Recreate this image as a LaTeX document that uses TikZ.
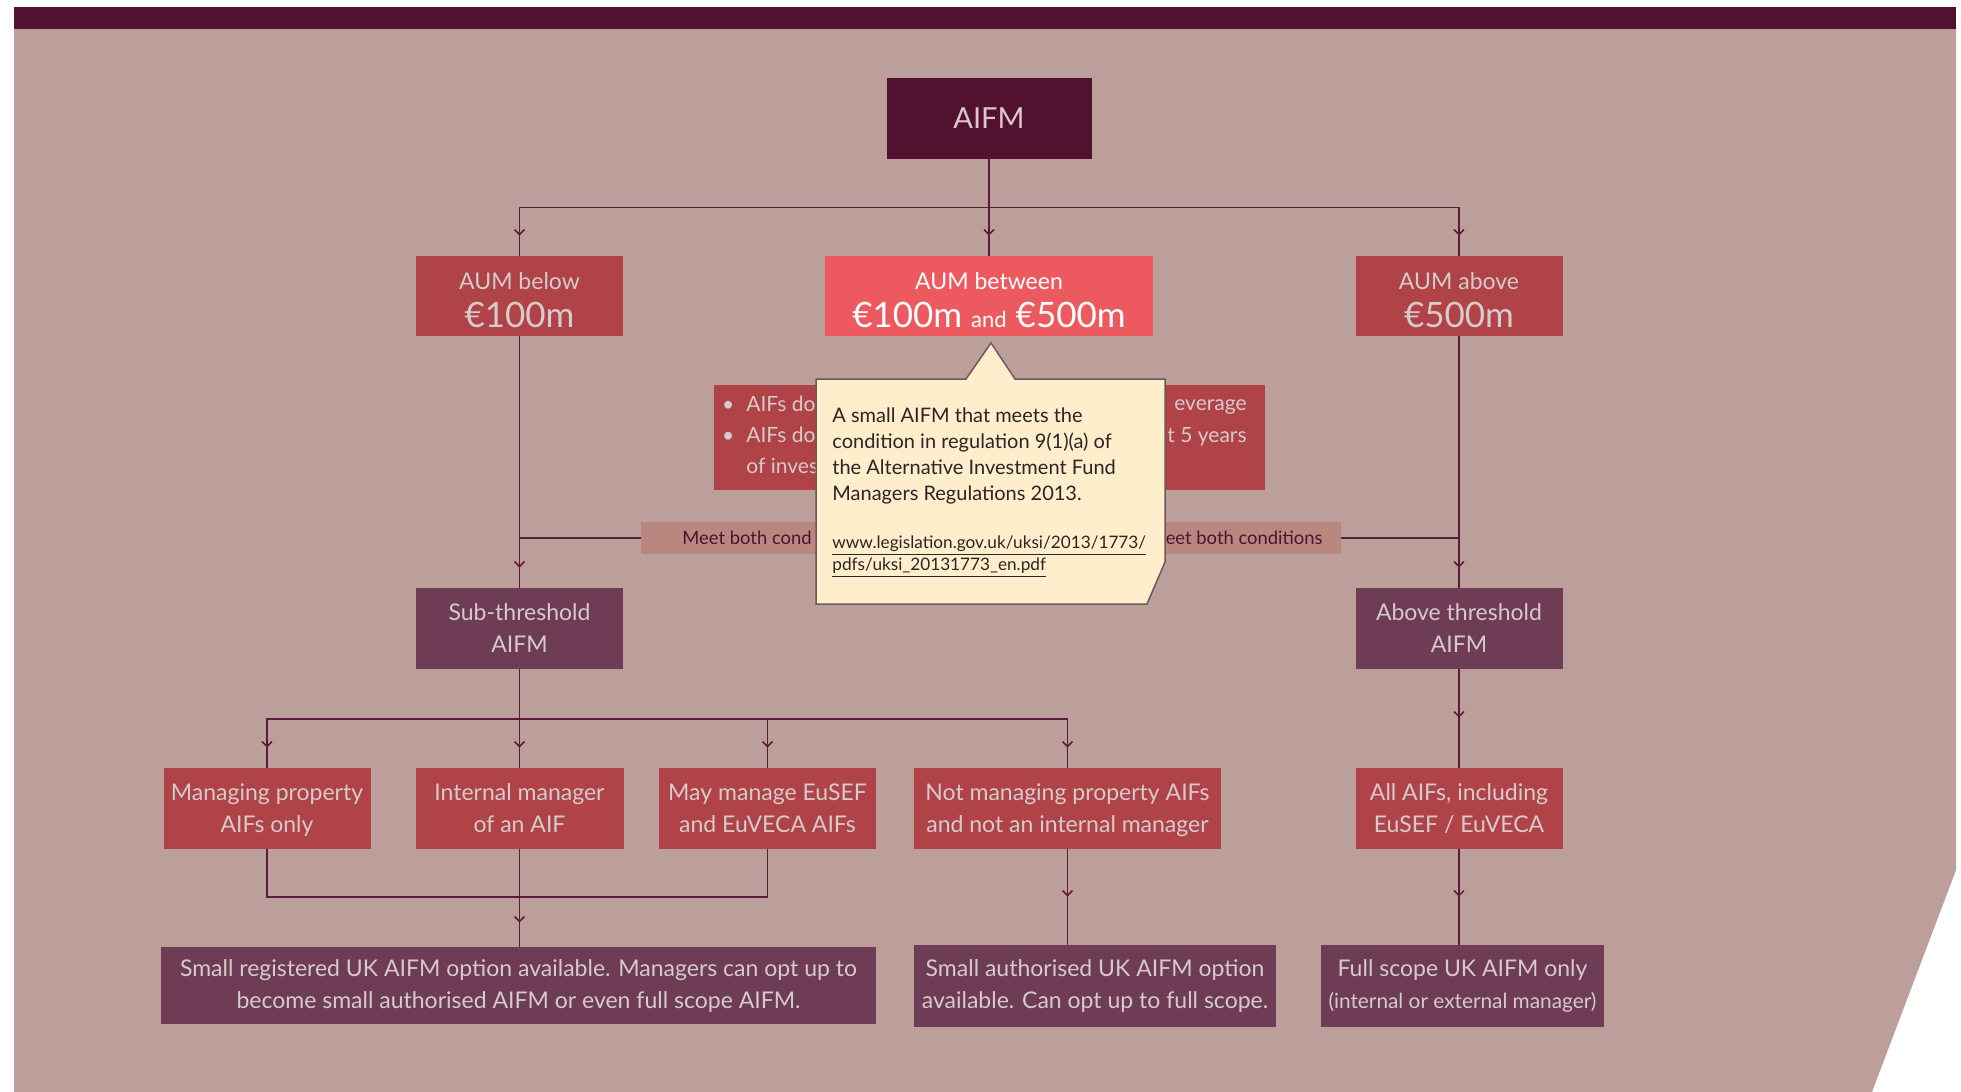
\documentclass[tikz,border=0pt]{standalone}
\usepackage{fontspec}
\setmainfont{Lato}
\usetikzlibrary{arrows.meta,decorations.markings,positioning}

\definecolor{pagebg}{HTML}{BC9E9A}
\definecolor{darkplum}{HTML}{52122F}
\definecolor{boxred}{HTML}{B04347}
\definecolor{boxpink}{HTML}{EC5A60}
\definecolor{boxplum}{HTML}{6E3C55}
\definecolor{barpink}{HTML}{B9877F}
\definecolor{boxtext}{HTML}{D6CACB}
\definecolor{aifmtext}{HTML}{DCC6CF}
\definecolor{linecol}{HTML}{5A1A3A}
\definecolor{notecol}{HTML}{FFEECB}
\definecolor{noteline}{HTML}{6E5858}
\definecolor{notetext}{HTML}{2B2626}

\tikzset{flow/.style={draw=linecol, line width=0.75pt,
  postaction={decorate, decoration={markings,
    mark=at position -#1 with {\arrow{Straight Barb[length=2.5pt,width=5pt,line width=0.75pt]}}}}},
  flow/.default=10pt}

\begin{document}
\begin{tikzpicture}[x=0.5pt,y=-0.5pt]
\tikzstyle{tile}=[inner sep=0pt, align=center, minimum height=40.5pt, text=boxtext, font=\fontsize{11.5}{16}\selectfont]
\tikzstyle{twoline}=[text depth=0pt]
\tikzstyle{redbox}=[tile, fill=boxred]
\tikzstyle{plumbox}=[tile, fill=boxplum]
\tikzstyle{wire}=[draw=linecol, line width=0.75pt]
\tikzstyle{condtext}=[inner sep=0pt, align=left, text=boxtext, font=\fontsize{10.5}{15.5}\selectfont]
\tikzstyle{bartext}=[inner sep=0pt, text=darkplum, font=\fontsize{9.2}{11}\selectfont]
\tikzstyle{notetext}=[inner sep=0pt, align=left, text=notetext, font=\fontsize{10}{13.1}\selectfont]

\useasboundingbox (0,0) rectangle (1961,1092);
% page
\fill[pagebg] (14,29) -- (1956,29) -- (1956,870) -- (1872,1092) -- (14,1092) -- cycle;
\fill[darkplum] (14,7) rectangle (1956,29);

% boxes
\node[tile, fill=darkplum, minimum width=102.5pt, text=aifmtext, font=\fontsize{14.5}{16}\selectfont] (aifm) at (989,118.5) {AIFM};

\node[redbox, minimum width=103.5pt, minimum height=40pt] (below) at (519.5,296) {\rule{0pt}{12.5pt}AUM below\\[3.2pt]{\fontsize{17.5}{19}\selectfont €100m}};
\node[tile, fill=boxpink, text=white, minimum width=164pt, minimum height=40pt] (between) at (989,296) {\rule{0pt}{12.5pt}AUM between\\[3.2pt]{\fontsize{17.5}{19}\selectfont €100m {\fontsize{11}{13}\selectfont and} €500m}};
\node[redbox, minimum width=103.5pt, minimum height=40pt] (above) at (1459,296) {\rule{0pt}{12.5pt}AUM above\\[3.2pt]{\fontsize{17.5}{19}\selectfont €500m}};

\node[tile, fill=boxred, minimum width=275.5pt, minimum height=52.5pt] (cond) at (989.5,437.5) {};
\node[condtext, anchor=west] (condl) at (746,435) {\llap{•\hspace{6pt}}AIFs do\\\llap{•\hspace{6pt}}AIFs do\\of inves};
\node[condtext, anchor=east, align=right, font=\fontsize{10.5}{16}\selectfont] (condr) at (1247,423) {everage\\t 5 years};

\node[fill=barpink, minimum width=350pt, minimum height=16pt, inner sep=0pt] (bar) at (991,538) {};
\node[bartext, anchor=west] (meetl) at (682,538) {Meet both cond};
\node[bartext, anchor=east] (meetr) at (1323,538) {eet both conditions};

\node[plumbox, twoline, minimum width=103.5pt] (sub) at (519.5,628.5) {Sub-threshold\\AIFM};
\node[plumbox, twoline, minimum width=103.5pt] (abovethr) at (1459,628.5) {Above threshold\\AIFM};

\node[redbox, twoline, minimum width=103.5pt] (prop) at (267,808.5) {Managing property\\AIFs only};
\node[redbox, twoline, minimum width=104pt] (internal) at (519.5,808.5) {Internal manager\\of an AIF};
\node[redbox, twoline, minimum width=108.5pt] (eusef) at (767.5,808.5) {May manage EuSEF\\and EuVECA AIFs};
\node[redbox, twoline, minimum width=153.5pt] (notprop) at (1067.5,808.5) {Not managing property AIFs\\and not an internal manager};
\node[redbox, twoline, minimum width=103.5pt] (allaifs) at (1459,808.5) {All AIFs, including\\EuSEF / EuVECA};

\node[plumbox, minimum width=357.5pt, minimum height=38.5pt] (smallreg) at (518.5,985.5) {Small registered UK AIFM option available. Managers can opt up to\\become small authorised AIFM or even full scope AIFM.};
\node[plumbox, minimum width=181pt, minimum height=41pt] (smallauth) at (1095,986) {Small authorised UK AIFM option\\available. Can opt up to full scope.};
\node[plumbox, minimum width=141.5pt, minimum height=41pt] (fullscope) at (1462.5,986) {Full scope UK AIFM only\\{\fontsize{10.4}{12}\selectfont (internal or external manager)}};

% connectors
\coordinate (top) at (989,207.5);
\draw[wire] (aifm) -- (top);
\draw[flow] (top) -| (below);
\draw[flow] (top) -- (between);
\draw[flow] (top) -| (above);

\draw[flow] (below) -- (sub);
\draw[wire] (below.south |- bar.west) -- (bar.west);
\draw[wire] (bar.east) -- (bar.east -| above.south);
\draw[flow] (above) -- (abovethr);

\coordinate (fork) at (519.5,719);
\draw[wire] (sub) -- (fork);
\draw[flow] (fork) -| (prop);
\draw[flow] (fork) -- (internal);
\draw[flow] (fork) -| (eusef);
\draw[flow] (fork) -| (notprop);

\coordinate (merge) at (519.5,897);
\draw[wire] (prop) |- (merge);
\draw[wire] (eusef) |- (merge);
\draw[flow=12pt] (internal) -- (internal |- smallreg.north);
\draw[flow=24pt] (notprop) -- (notprop |- smallauth.north);
\draw[flow=25pt] (abovethr) -- (allaifs);
\draw[flow=24pt] (allaifs) -- (allaifs |- fullscope.north);

% note on top
\filldraw[fill=notecol, draw=noteline, line width=0.75pt] (816,379) -- (966,379) -- (991,343) -- (1015,379) -- (1165,379) -- (1165,562) -- (1147,604) -- (816,604) -- cycle;
\node[notetext, anchor=north west] (notebody) at (832,407) {A small AIFM that meets the\\condition in regulation 9(1)(a) of\\the Alternative Investment Fund\\Managers Regulations 2013.};
\node[notetext, anchor=north west, font=\fontsize{8.6}{11.4}\selectfont] (notelink) at (832,535) {\underline{www.legislation.gov.uk/uksi/2013/1773/}\\\underline{pdfs/uksi\_20131773\_en.pdf}};
\end{tikzpicture}
\end{document}
